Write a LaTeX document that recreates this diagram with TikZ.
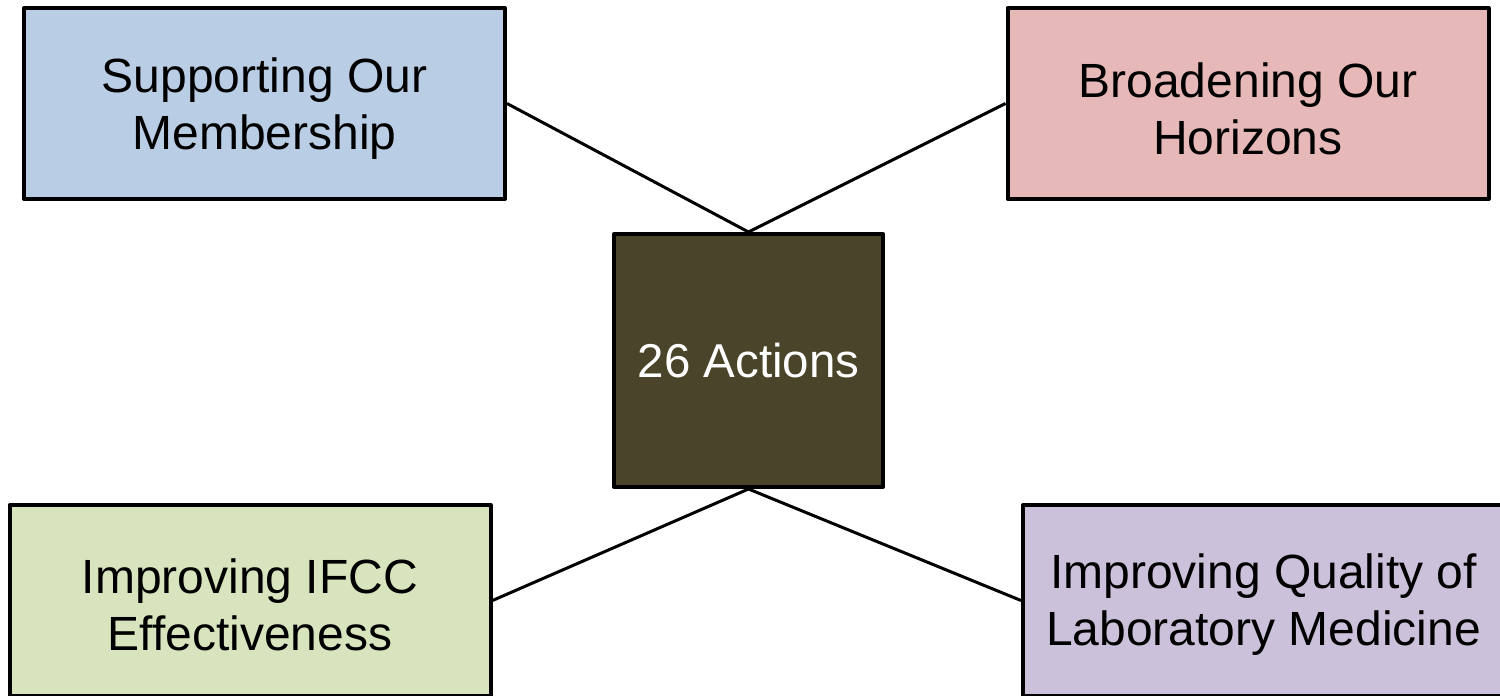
\documentclass[tikz,border=0pt]{standalone}
\usepackage{fontspec}
\setmainfont{Liberation Sans}
\definecolor{cblue}{HTML}{B9CDE5}
\definecolor{cpink}{HTML}{E6B9B8}
\definecolor{cgreen}{HTML}{D7E4BD}
\definecolor{clav}{HTML}{CCC1DA}
\definecolor{colive}{HTML}{4A452A}
\begin{document}
\begin{tikzpicture}[x=1pt,y=-1pt,
  goalbox/.style={draw=black, line width=4pt, line join=round, rectangle,
    minimum width=481pt, minimum height=191pt, inner sep=0pt},
  goaltext/.style={inner sep=0pt, align=center,
    font=\fontsize{48}{57}\selectfont},
  centerbox/.style={draw=black, line width=4pt, line join=round, rectangle,
    fill=colive, text=white, minimum width=269pt, minimum height=253pt,
    inner sep=0pt, font=\fontsize{47.5}{57}\selectfont},
  link/.style={draw=black, line width=3pt}]
\useasboundingbox (0,0) rectangle (1500,696);
\clip (0,0) rectangle (1500,696);
\node[centerbox] (c) at (748.5,360.5) {26 Actions};
\node[goalbox, fill=cblue] (tl) at (264.5,103.5) {};
\node[goalbox, fill=cpink] (tr) at (1248,103.5) {};
\node[goalbox, fill=cgreen] (bl) at (250,600.5) {};
\node[goalbox, fill=clav] (br) at (1263.5,600.5) {};
\node[goaltext] (tlt) at ([yshift=-5pt]tl.center) {Supporting Our\\Membership};
\node[goaltext] (trt) at ([yshift=-5pt]tr.center) {Broadening Our\\Horizons};
\node[goaltext] (blt) at ([yshift=-4pt]bl.center) {Improving IFCC\\Effectiveness};
\node[goaltext] (brt) at ([yshift=-4pt]br.center) {Improving Quality of\\Laboratory Medicine};
\draw[link] (tl.east) -- (c.north);
\draw[link] (tr.west) -- (c.north);
\draw[link] (bl.east) -- (c.south);
\draw[link] (br.west) -- (c.south);
\end{tikzpicture}
\end{document}
